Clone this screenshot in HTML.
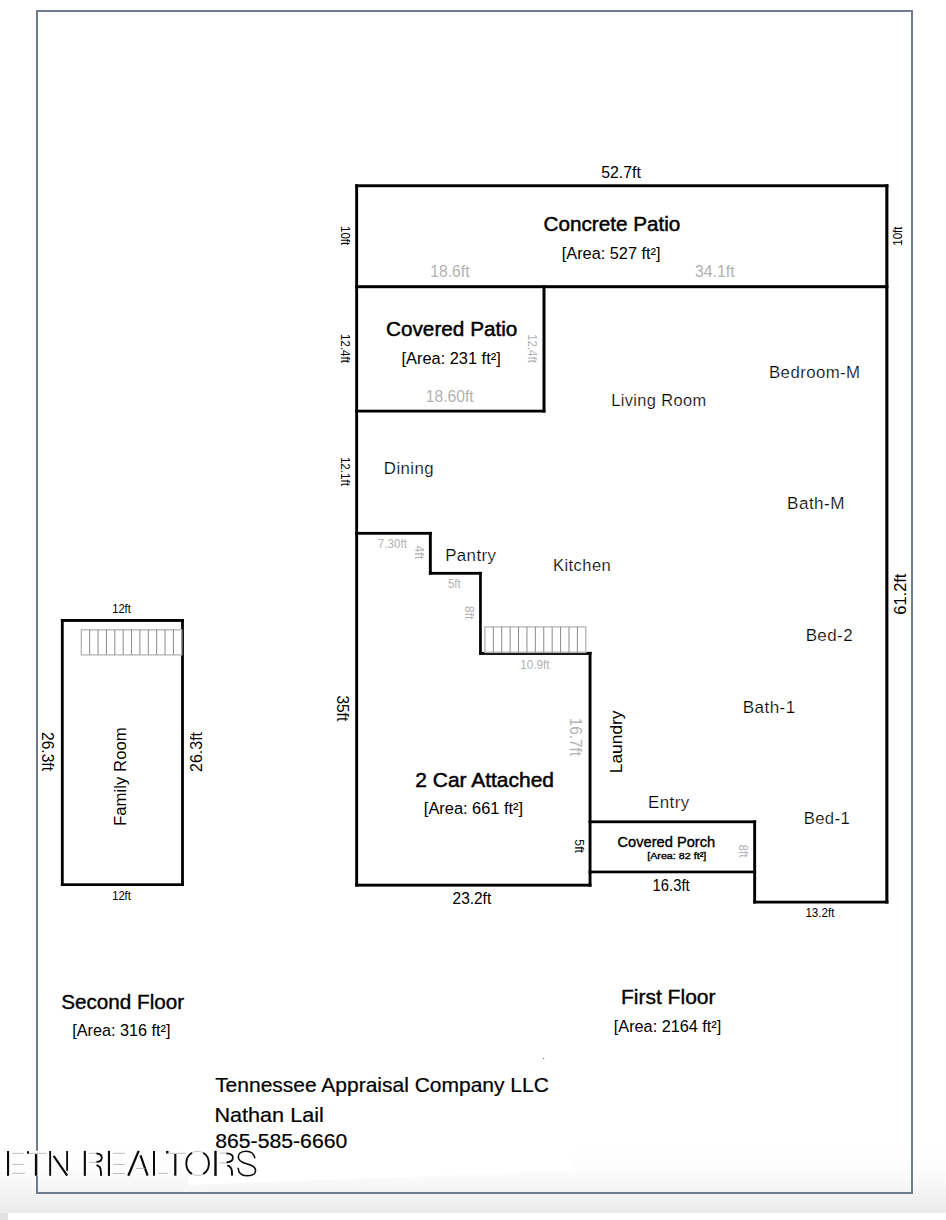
<!DOCTYPE html>
<html><head><meta charset="utf-8"><style>
html,body{margin:0;padding:0;background:#fff;}
body{width:946px;height:1220px;position:relative;overflow:hidden;}
svg{position:absolute;left:0;top:0;}
</style></head><body>
<svg width="946" height="1220" viewBox="0 0 946 1220" font-family='"Liberation Sans", sans-serif'>
<defs><linearGradient id="bg" x1="0" y1="0" x2="0" y2="1">
<stop offset="0" stop-color="#fff"/><stop offset="0.36" stop-color="#fcfcfc"/><stop offset="0.68" stop-color="#f4f4f4"/><stop offset="1" stop-color="#eaeaea"/></linearGradient></defs>
<rect x="0" y="1148" width="946" height="65" fill="url(#bg)"/>
<polygon points="188,1090 572,1090 572,1171 188,1185" fill="#fff"/>
<rect x="0" y="1213" width="8" height="7" fill="#e2e2e2"/>
<rect x="8" y="1213" width="938" height="7" fill="#fff"/>
<rect x="37" y="11" width="875" height="1182" fill="none" stroke="#707c8b" stroke-width="2"/>
<rect x="355.2" y="184.3" width="533.20" height="2.90" fill="#000"/><rect x="355.2" y="184.3" width="2.90" height="702.30" fill="#000"/><rect x="885.3" y="184.3" width="3.10" height="719.20" fill="#000"/><rect x="355.2" y="285.2" width="533.20" height="3.00" fill="#000"/><rect x="542.5" y="285.2" width="3.00" height="127.30" fill="#000"/><rect x="355.2" y="409.7" width="190.30" height="2.80" fill="#000"/><rect x="355.2" y="531.9" width="76.60" height="2.80" fill="#000"/><rect x="428.9" y="531.9" width="2.90" height="42.80" fill="#000"/><rect x="428.9" y="571.9" width="52.90" height="2.80" fill="#000"/><rect x="479.1" y="571.9" width="2.70" height="83.00" fill="#000"/><rect x="479.1" y="651.9" width="112.40" height="3.00" fill="#000"/><rect x="588.6" y="651.9" width="2.90" height="234.70" fill="#000"/><rect x="355.2" y="883.7" width="236.30" height="2.90" fill="#000"/><rect x="588.6" y="820.4" width="167.50" height="2.80" fill="#000"/><rect x="588.6" y="870.6" width="167.50" height="2.70" fill="#000"/><rect x="753.2" y="820.4" width="2.90" height="83.10" fill="#000"/><rect x="753.2" y="900.7" width="135.20" height="2.80" fill="#000"/><rect x="60.9" y="619.0" width="123.00" height="2.90" fill="#000"/><rect x="60.9" y="619.0" width="2.80" height="267.00" fill="#000"/><rect x="181.1" y="619.0" width="2.80" height="267.00" fill="#000"/><rect x="60.9" y="883.3" width="123.00" height="2.70" fill="#000"/>
<rect x="81.3" y="629.8" width="100.50000000000001" height="25.100000000000023" fill="none" stroke="#b4b4b4" stroke-width="1.3"/><line x1="89.67" y1="629.8" x2="89.67" y2="654.9" stroke="#8a8a8a" stroke-width="1"/><line x1="98.05" y1="629.8" x2="98.05" y2="654.9" stroke="#8a8a8a" stroke-width="1"/><line x1="106.43" y1="629.8" x2="106.43" y2="654.9" stroke="#8a8a8a" stroke-width="1"/><line x1="114.80" y1="629.8" x2="114.80" y2="654.9" stroke="#8a8a8a" stroke-width="1"/><line x1="123.18" y1="629.8" x2="123.18" y2="654.9" stroke="#8a8a8a" stroke-width="1"/><line x1="131.55" y1="629.8" x2="131.55" y2="654.9" stroke="#8a8a8a" stroke-width="1"/><line x1="139.93" y1="629.8" x2="139.93" y2="654.9" stroke="#8a8a8a" stroke-width="1"/><line x1="148.30" y1="629.8" x2="148.30" y2="654.9" stroke="#8a8a8a" stroke-width="1"/><line x1="156.68" y1="629.8" x2="156.68" y2="654.9" stroke="#8a8a8a" stroke-width="1"/><line x1="165.05" y1="629.8" x2="165.05" y2="654.9" stroke="#8a8a8a" stroke-width="1"/><line x1="173.43" y1="629.8" x2="173.43" y2="654.9" stroke="#8a8a8a" stroke-width="1"/><rect x="484.9" y="626.9" width="100.89999999999998" height="25.600000000000023" fill="none" stroke="#b4b4b4" stroke-width="1.3"/><line x1="493.31" y1="626.9" x2="493.31" y2="652.5" stroke="#8a8a8a" stroke-width="1"/><line x1="501.72" y1="626.9" x2="501.72" y2="652.5" stroke="#8a8a8a" stroke-width="1"/><line x1="510.12" y1="626.9" x2="510.12" y2="652.5" stroke="#8a8a8a" stroke-width="1"/><line x1="518.53" y1="626.9" x2="518.53" y2="652.5" stroke="#8a8a8a" stroke-width="1"/><line x1="526.94" y1="626.9" x2="526.94" y2="652.5" stroke="#8a8a8a" stroke-width="1"/><line x1="535.35" y1="626.9" x2="535.35" y2="652.5" stroke="#8a8a8a" stroke-width="1"/><line x1="543.76" y1="626.9" x2="543.76" y2="652.5" stroke="#8a8a8a" stroke-width="1"/><line x1="552.17" y1="626.9" x2="552.17" y2="652.5" stroke="#8a8a8a" stroke-width="1"/><line x1="560.57" y1="626.9" x2="560.57" y2="652.5" stroke="#8a8a8a" stroke-width="1"/><line x1="568.98" y1="626.9" x2="568.98" y2="652.5" stroke="#8a8a8a" stroke-width="1"/><line x1="577.39" y1="626.9" x2="577.39" y2="652.5" stroke="#8a8a8a" stroke-width="1"/>
<text transform="translate(601.15,177.50) rotate(0) scale(0.9917,1)" font-size="16.000" font-weight="normal" fill="#000">52.7ft</text><text transform="translate(543.56,230.99) rotate(0) scale(1.0605,1)" font-size="19.500" font-weight="normal" fill="#000" stroke="#000" stroke-width="0.45">Concrete Patio</text><text transform="translate(561.82,259.20) rotate(0) scale(0.9997,1)" font-size="16.300" font-weight="normal" fill="#000">[Area: 527 ft²]</text><text transform="translate(430.31,277.00) rotate(0) scale(1.0045,1)" font-size="15.600" font-weight="normal" fill="#b2b2b2">18.6ft</text><text transform="translate(694.95,276.99) rotate(0) scale(1.0166,1)" font-size="15.600" font-weight="normal" fill="#b2b2b2">34.1ft</text><text transform="translate(385.99,335.99) rotate(0) scale(1.0639,1)" font-size="19.500" font-weight="normal" fill="#000" stroke="#000" stroke-width="0.45">Covered Patio</text><text transform="translate(401.51,363.80) rotate(0) scale(1.0053,1)" font-size="16.300" font-weight="normal" fill="#000">[Area: 231 ft²]</text><text transform="translate(425.83,402.49) rotate(0) scale(1.0043,1)" font-size="15.600" font-weight="normal" fill="#b2b2b2">18.60ft</text><text transform="translate(611.15,405.52) rotate(0) scale(1.0061,1)" font-size="16.300" letter-spacing="0.400" font-weight="normal" fill="#000" stroke="#fff" stroke-width="0.22">Living Room</text><text transform="translate(769.00,377.70) rotate(0) scale(1.0324,1)" font-size="16.300" letter-spacing="0.400" font-weight="normal" fill="#000" stroke="#fff" stroke-width="0.22">Bedroom-M</text><text transform="translate(787.12,509.30) rotate(0) scale(1.0515,1)" font-size="16.300" letter-spacing="0.400" font-weight="normal" fill="#000" stroke="#fff" stroke-width="0.22">Bath-M</text><text transform="translate(383.87,473.61) rotate(0) scale(1.0309,1)" font-size="16.300" letter-spacing="0.400" font-weight="normal" fill="#000" stroke="#fff" stroke-width="0.22">Dining</text><text transform="translate(445.18,561.38) rotate(0) scale(1.0341,1)" font-size="16.300" letter-spacing="0.400" font-weight="normal" fill="#000" stroke="#fff" stroke-width="0.22">Pantry</text><text transform="translate(553.09,571.30) rotate(0) scale(1.0157,1)" font-size="16.300" letter-spacing="0.400" font-weight="normal" fill="#000" stroke="#fff" stroke-width="0.22">Kitchen</text><text transform="translate(377.86,547.70) rotate(0) scale(0.9522,1)" font-size="12.200" font-weight="normal" fill="#b2b2b2">7.30ft</text><text transform="translate(447.96,587.90) rotate(0) scale(0.9417,1)" font-size="12.200" font-weight="normal" fill="#b2b2b2">5ft</text><text transform="translate(520.34,668.69) rotate(0) scale(0.9602,1)" font-size="12.200" font-weight="normal" fill="#b2b2b2">10.9ft</text><text transform="translate(415.33,786.80) rotate(0) scale(1.0753,1)" font-size="19.500" font-weight="normal" fill="#000" stroke="#000" stroke-width="0.45">2 Car Attached</text><text transform="translate(423.86,814.00) rotate(0) scale(1.0050,1)" font-size="16.300" font-weight="normal" fill="#000">[Area: 661 ft²]</text><text transform="translate(452.54,904.39) rotate(0) scale(0.9669,1)" font-size="16.000" font-weight="normal" fill="#000">23.2ft</text><text transform="translate(648.02,807.71) rotate(0) scale(1.0382,1)" font-size="16.300" letter-spacing="0.400" font-weight="normal" fill="#000" stroke="#fff" stroke-width="0.22">Entry</text><text transform="translate(803.64,823.50) rotate(0) scale(1.0243,1)" font-size="16.300" letter-spacing="0.400" font-weight="normal" fill="#000" stroke="#fff" stroke-width="0.22">Bed-1</text><text transform="translate(617.56,847.27) rotate(0) scale(1.0551,1)" font-size="13.876" font-weight="normal" fill="#000" stroke="#000" stroke-width="0.35">Covered Porch</text><text transform="translate(647.16,859.40) rotate(0) scale(1.1858,1)" font-size="9.064" font-weight="normal" fill="#000" stroke="#000" stroke-width="0.35">[Area: 82 ft²]</text><text transform="translate(652.61,891.46) rotate(0) scale(0.9248,1)" font-size="16.000" font-weight="normal" fill="#000">16.3ft</text><text transform="translate(805.40,916.58) rotate(0) scale(0.9530,1)" font-size="12.200" font-weight="normal" fill="#000">13.2ft</text><text transform="translate(805.64,640.70) rotate(0) scale(1.0415,1)" font-size="16.300" letter-spacing="0.400" font-weight="normal" fill="#000" stroke="#fff" stroke-width="0.22">Bed-2</text><text transform="translate(742.80,712.80) rotate(0) scale(1.0483,1)" font-size="16.300" letter-spacing="0.400" font-weight="normal" fill="#000" stroke="#fff" stroke-width="0.22">Bath-1</text><text transform="translate(112.15,613.29) rotate(0) scale(0.9191,1)" font-size="12.200" font-weight="normal" fill="#000">12ft</text><text transform="translate(112.15,899.99) rotate(0) scale(0.9191,1)" font-size="12.200" font-weight="normal" fill="#000">12ft</text><text transform="translate(61.19,1008.78) rotate(0) scale(1.0616,1)" font-size="19.500" font-weight="normal" fill="#000" stroke="#000" stroke-width="0.35">Second Floor</text><text transform="translate(72.20,1036.10) rotate(0) scale(0.9955,1)" font-size="16.300" font-weight="normal" fill="#000">[Area: 316 ft²]</text><text transform="translate(620.92,1004.18) rotate(0) scale(1.0792,1)" font-size="19.500" font-weight="normal" fill="#000" stroke="#000" stroke-width="0.35">First Floor</text><text transform="translate(613.80,1031.60) rotate(0) scale(0.9975,1)" font-size="16.300" font-weight="normal" fill="#000">[Area: 2164 ft²]</text><text transform="translate(215.13,1092.40) rotate(0) scale(1.0348,1)" font-size="20.300" font-weight="normal" fill="#000" stroke="#000" stroke-width="0.2">Tennessee Appraisal Company LLC</text><text transform="translate(214.48,1121.59) rotate(0) scale(1.0648,1)" font-size="20.300" font-weight="normal" fill="#000" stroke="#000" stroke-width="0.2">Nathan Lail</text><text transform="translate(215.22,1148.41) rotate(0) scale(1.0453,1)" font-size="20.300" font-weight="normal" fill="#000" stroke="#000" stroke-width="0.2">865-585-6660</text><text transform="translate(341.02,226.03) rotate(90) scale(0.9452,1)" font-size="12.200" font-weight="normal" fill="#000">10ft</text><text transform="translate(902.11,245.74) rotate(-90) scale(0.9410,1)" font-size="12.200" font-weight="normal" fill="#000">10ft</text><text transform="translate(341.22,334.10) rotate(90) scale(0.9455,1)" font-size="12.200" font-weight="normal" fill="#000">12.4ft</text><text transform="translate(527.58,334.13) rotate(90) scale(0.9426,1)" font-size="12.200" font-weight="normal" fill="#b2b2b2">12.4ft</text><text transform="translate(341.01,456.91) rotate(90) scale(0.9535,1)" font-size="12.200" font-weight="normal" fill="#000">12.1ft</text><text transform="translate(414.72,545.61) rotate(90) scale(0.9935,1)" font-size="12.200" font-weight="normal" fill="#b2b2b2">4ft</text><text transform="translate(465.43,606.09) rotate(90) scale(0.9858,1)" font-size="12.200" font-weight="normal" fill="#b2b2b2">8ft</text><text transform="translate(337.21,695.42) rotate(90) scale(0.9653,1)" font-size="16.000" font-weight="normal" fill="#000">35ft</text><text transform="translate(570.37,717.70) rotate(90) scale(0.9796,1)" font-size="15.600" font-weight="normal" fill="#b2b2b2">16.7ft</text><text transform="translate(621.52,773.23) rotate(-90) scale(1.0854,1)" font-size="16.000" font-weight="normal" fill="#000">Laundry</text><text transform="translate(575.00,839.36) rotate(90) scale(1.0055,1)" font-size="12.200" font-weight="normal" fill="#000">5ft</text><text transform="translate(738.51,844.54) rotate(90) scale(0.9616,1)" font-size="12.200" font-weight="normal" fill="#b2b2b2">8ft</text><text transform="translate(906.41,614.73) rotate(-90) scale(1.0283,1)" font-size="16.000" font-weight="normal" fill="#000">61.2ft</text><text transform="translate(42.34,732.09) rotate(90) scale(0.9714,1)" font-size="16.000" font-weight="normal" fill="#000">26.3ft</text><text transform="translate(201.90,771.90) rotate(-90) scale(0.9968,1)" font-size="16.000" font-weight="normal" fill="#000">26.3ft</text><text transform="translate(126.24,825.94) rotate(-90) scale(1.0494,1)" font-size="16.000" font-weight="normal" fill="#000">Family Room</text>
<rect x="35" y="1150.8" width="4" height="25.3" fill="#fdfdfd"/><rect x="7" y="1151" width="2.1" height="24.8" fill="#0a0a0a"/><line x1="12.3" y1="1153.3" x2="23.8" y2="1153.3" stroke="#bdbdbd" stroke-width="1.0"/><line x1="12.3" y1="1164.4" x2="23.8" y2="1164.4" stroke="#bdbdbd" stroke-width="1.0"/><line x1="12.3" y1="1173.3" x2="25" y2="1173.3" stroke="#bdbdbd" stroke-width="1.0"/><rect x="27" y="1151.2" width="2" height="2.5" fill="#0a0a0a"/><line x1="29" y1="1153.3" x2="46.4" y2="1153.3" stroke="#bdbdbd" stroke-width="1.0"/><rect x="34.9" y="1154.1" width="2.4" height="21.7" fill="#0a0a0a"/><rect x="49.2" y="1151" width="1.9" height="24.8" fill="#0a0a0a"/><line x1="53.6" y1="1155.8" x2="67.2" y2="1175.6" stroke="#0a0a0a" stroke-width="2.2"/><rect x="66.2" y="1151" width="1.8" height="19.8" fill="#0a0a0a"/><rect x="83.8" y="1150.8" width="2.1" height="25.1" fill="#0a0a0a"/><line x1="89.1" y1="1153.3" x2="97" y2="1153.3" stroke="#bdbdbd" stroke-width="1.0"/><line x1="89.1" y1="1162.3" x2="97" y2="1162.3" stroke="#bdbdbd" stroke-width="1.0"/><path d="M96.5 1153.5 C100.5 1153.8 101.8 1155.5 101.8 1157.7 C101.8 1160 100.5 1161.7 96.5 1161.9" fill="none" stroke="#0a0a0a" stroke-width="1.8"/><path d="M96.5 1165.1 C100 1166 100.8 1168 100.8 1171 L101.2 1175.8" fill="none" stroke="#0a0a0a" stroke-width="1.9"/><rect x="107.9" y="1150.8" width="2.1" height="25.1" fill="#0a0a0a"/><line x1="113.1" y1="1153.3" x2="125" y2="1153.3" stroke="#bdbdbd" stroke-width="1.0"/><line x1="113.1" y1="1164.5" x2="125" y2="1164.5" stroke="#bdbdbd" stroke-width="1.0"/><line x1="113.1" y1="1173.5" x2="125" y2="1173.5" stroke="#bdbdbd" stroke-width="1.0"/><line x1="128.3" y1="1175.7" x2="138.7" y2="1150.9" stroke="#0a0a0a" stroke-width="2.3"/><line x1="140.5" y1="1155.4" x2="147.6" y2="1175.7" stroke="#0a0a0a" stroke-width="2.2"/><line x1="136.1" y1="1168.5" x2="144.6" y2="1168.5" stroke="#bdbdbd" stroke-width="1.0"/><rect x="153" y="1151" width="2.0" height="24.7" fill="#0a0a0a"/><line x1="158.3" y1="1173.3" x2="167.9" y2="1173.3" stroke="#bdbdbd" stroke-width="1.0"/><rect x="166.1" y="1150.9" width="2.4" height="2.6" fill="#0a0a0a"/><line x1="168.7" y1="1153.3" x2="185.7" y2="1153.3" stroke="#bdbdbd" stroke-width="1.0"/><rect x="174.2" y="1154" width="2.2" height="21.7" fill="#0a0a0a"/><ellipse cx="197.6" cy="1163.4" rx="11.3" ry="12.2" fill="none" stroke="#c4c4c4" stroke-width="1"/><path d="M192.0 1152.8 A11.3 12.2 0 0 0 192.0 1174.0" fill="none" stroke="#0a0a0a" stroke-width="1.9"/><path d="M203.2 1152.8 A11.3 12.2 0 0 1 203.2 1174.0" fill="none" stroke="#0a0a0a" stroke-width="1.9"/><rect x="214.3" y="1150.8" width="2.4" height="25.1" fill="#0a0a0a"/><line x1="219.4" y1="1153.1" x2="227" y2="1153.1" stroke="#bdbdbd" stroke-width="1.0"/><line x1="219.4" y1="1162.8" x2="227" y2="1162.8" stroke="#bdbdbd" stroke-width="1.0"/><path d="M226.5 1153.3 C231 1153.5 232.9 1155.5 232.9 1157.7 C232.9 1160 231 1162 226.5 1162.3" fill="none" stroke="#0a0a0a" stroke-width="1.8"/><path d="M227.3 1165.3 C231 1166.5 231.9 1169 231.9 1171.5 L232.1 1175.6" fill="none" stroke="#0a0a0a" stroke-width="1.9"/><path d="M254.9 1158.3 C254 1153.8 250.5 1151.2 246.3 1151.2 C241 1151.2 238.3 1154 238.3 1157 C238.3 1160.8 241.5 1162.4 246.5 1163.7 C252.5 1165.2 255.6 1167 255.6 1170.4 C255.6 1174 252.2 1175.8 246.6 1175.8 C241.2 1175.8 238.4 1172.6 238.1 1167.8" fill="none" stroke="#0a0a0a" stroke-width="1.55"/>
<rect x="543" y="1058" width="1.2" height="1.2" fill="#777"/>
</svg>
</body></html>
